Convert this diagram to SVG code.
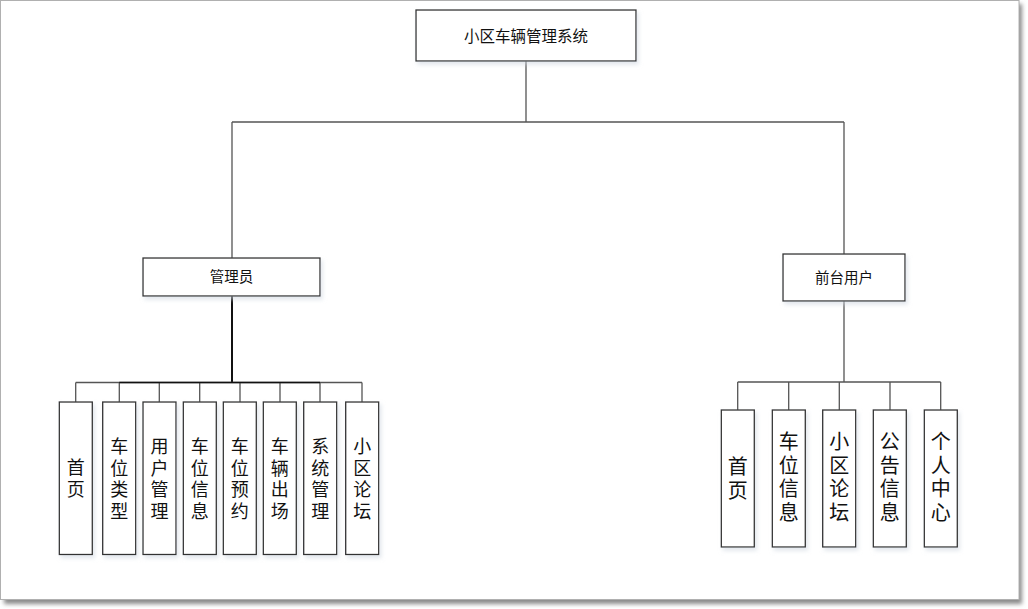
<svg xmlns="http://www.w3.org/2000/svg" width="1028" height="609" viewBox="0 0 1028 609">
<defs>
<filter id="pageShadow" x="-5%" y="-5%" width="110%" height="110%"><feGaussianBlur stdDeviation="2"/></filter>
<filter id="boxShadow" x="-20%" y="-20%" width="140%" height="140%"><feDropShadow dx="2" dy="3" stdDeviation="2" flood-color="#cfd6e0" flood-opacity="0.6"/></filter>
<style>
.box{fill:#ffffff;stroke:#333333;stroke-width:1.3;filter:url(#boxShadow)}
.t{font-family:"Liberation Sans","Noto Sans CJK SC",sans-serif;fill:#111111;text-anchor:middle}
.top{font-size:15.5px}
.mid{font-size:14.5px}
.v{font-size:18px}
.vr{font-size:20px}
.ln{stroke:#555555;stroke-width:1.3;fill:none}
.lnb{stroke:#111111;stroke-width:2;fill:none}
</style>
</defs>
<rect x="0" y="0" width="1028" height="609" fill="#ffffff"/>
<rect x="4" y="4" width="1018" height="600" fill="#8a8a8a" filter="url(#pageShadow)"/>
<rect x="0.5" y="0.5" width="1018.5" height="599" fill="#ffffff" stroke="#b0b0b0" stroke-width="1"/>

<g id="connectors">
<path class="ln" d="M526 61 V122 M232 122 H844 M232 122 V258 M844 122 V254"/>
<path class="lnb" d="M232 296 V382"/>
<path class="ln" d="M75.7 382.5 H362 M75.7 382.5 V402 M119.3 382.5 V402 M159.3 382.5 V402 M199.7 382.5 V402 M240 382.5 V402 M280 382.5 V402 M320 382.5 V402 M362 382.5 V402"/>
<path class="lnb" d="M119.3 382.5 H320" style="stroke-width:1.6"/>
<path class="ln" d="M844 301 V382 M737.7 382 H940.7 M737.7 382 V410 M788.7 382 V410 M839.3 382 V410 M890 382 V410 M940.7 382 V410"/>
</g>

<g id="root"><rect class="box" x="416" y="10" width="220" height="51"/><text class="t top" x="526" y="41.5">小区车辆管理系统</text></g>
<g id="admin"><rect class="box" x="143" y="258" width="177" height="38"/><text class="t mid" x="231.5" y="282">管理员</text></g>
<g id="frontuser"><rect class="box" x="783" y="254" width="122" height="47"/><text class="t mid" x="844" y="282.5">前台用户</text></g>

<g id="a1"><rect class="box" x="59.3" y="402" width="33" height="152.5"/><text class="t v" x="75.8" y="474">首</text><text class="t v" x="75.8" y="495.5">页</text></g>
<g id="a2"><rect class="box" x="102.7" y="402" width="33" height="152.5"/><text class="t v" x="119.2" y="453">车</text><text class="t v" x="119.2" y="474.5">位</text><text class="t v" x="119.2" y="496">类</text><text class="t v" x="119.2" y="517.5">型</text></g>
<g id="a3"><rect class="box" x="143" y="402" width="33" height="152.5"/><text class="t v" x="159.5" y="453">用</text><text class="t v" x="159.5" y="474.5">户</text><text class="t v" x="159.5" y="496">管</text><text class="t v" x="159.5" y="517.5">理</text></g>
<g id="a4"><rect class="box" x="183.3" y="402" width="33" height="152.5"/><text class="t v" x="199.8" y="453">车</text><text class="t v" x="199.8" y="474.5">位</text><text class="t v" x="199.8" y="496">信</text><text class="t v" x="199.8" y="517.5">息</text></g>
<g id="a5"><rect class="box" x="223.3" y="402" width="33" height="152.5"/><text class="t v" x="239.8" y="453">车</text><text class="t v" x="239.8" y="474.5">位</text><text class="t v" x="239.8" y="496">预</text><text class="t v" x="239.8" y="517.5">约</text></g>
<g id="a6"><rect class="box" x="263.3" y="402" width="33" height="152.5"/><text class="t v" x="279.8" y="453">车</text><text class="t v" x="279.8" y="474.5">辆</text><text class="t v" x="279.8" y="496">出</text><text class="t v" x="279.8" y="517.5">场</text></g>
<g id="a7"><rect class="box" x="303.7" y="402" width="33" height="152.5"/><text class="t v" x="320.2" y="453">系</text><text class="t v" x="320.2" y="474.5">统</text><text class="t v" x="320.2" y="496">管</text><text class="t v" x="320.2" y="517.5">理</text></g>
<g id="a8"><rect class="box" x="345.7" y="402" width="33" height="152.5"/><text class="t v" x="362.2" y="453">小</text><text class="t v" x="362.2" y="474.5">区</text><text class="t v" x="362.2" y="496">论</text><text class="t v" x="362.2" y="517.5">坛</text></g>

<g id="u1"><rect class="box" x="721.3" y="410" width="33" height="137"/><text class="t vr" x="737.8" y="474">首</text><text class="t vr" x="737.8" y="497.5">页</text></g>
<g id="u2"><rect class="box" x="772.3" y="410" width="33" height="137"/><text class="t vr" x="788.8" y="449">车</text><text class="t vr" x="788.8" y="472.5">位</text><text class="t vr" x="788.8" y="496">信</text><text class="t vr" x="788.8" y="519.5">息</text></g>
<g id="u3"><rect class="box" x="822.7" y="410" width="33" height="137"/><text class="t vr" x="839.2" y="449">小</text><text class="t vr" x="839.2" y="472.5">区</text><text class="t vr" x="839.2" y="496">论</text><text class="t vr" x="839.2" y="519.5">坛</text></g>
<g id="u4"><rect class="box" x="873.3" y="410" width="33" height="137"/><text class="t vr" x="889.8" y="449">公</text><text class="t vr" x="889.8" y="472.5">告</text><text class="t vr" x="889.8" y="496">信</text><text class="t vr" x="889.8" y="519.5">息</text></g>
<g id="u5"><rect class="box" x="924.3" y="410" width="33" height="137"/><text class="t vr" x="940.8" y="449">个</text><text class="t vr" x="940.8" y="472.5">人</text><text class="t vr" x="940.8" y="496">中</text><text class="t vr" x="940.8" y="519.5">心</text></g>
</svg>
